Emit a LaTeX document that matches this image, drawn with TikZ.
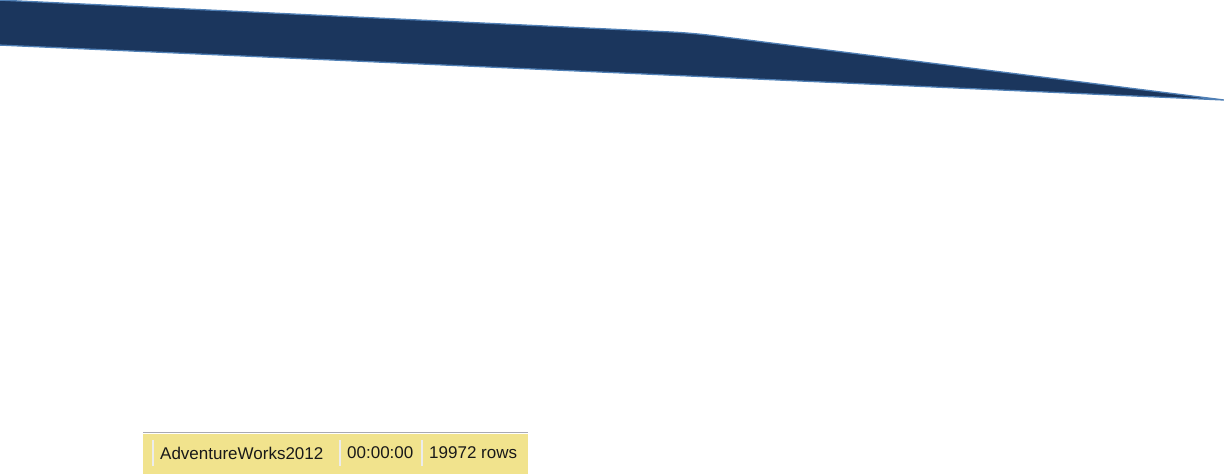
\documentclass[tikz,border=0pt]{standalone}
\usepackage{fontspec}
\setmainfont{Liberation Sans}
\usepackage{tikz}
\usetikzlibrary{positioning}
\definecolor{bandnavy}{HTML}{1B365D}
\definecolor{bandedge}{HTML}{4F7FB5}
\definecolor{baryellow}{HTML}{F1E38D}
\definecolor{barline}{HTML}{A9A9B2}
\tikzstyle{band}=[fill=bandnavy,draw=bandedge,line width=1.3pt,line join=round]
\tikzstyle{statusbar}=[fill=baryellow]
\tikzstyle{sep}=[draw=white!85!gray,line width=1.4pt]
\tikzstyle{stat}=[anchor=west,inner sep=0pt,font=\fontsize{17}{19}\selectfont,text=black!90]

\begin{document}
\begin{tikzpicture}[x=1pt,y=-1pt]
    \useasboundingbox (0,0) rectangle (1224,474);
    % Draw the band across the top
    \path[band] (-2,0) [rounded corners=20pt] -- (692,33) [sharp corners] -- (1224,100) -- (-2,45) -- cycle;
    % Then the status bar with its three fields
    \path[statusbar] (143,434) rectangle (528,474);
    \draw[barline,line width=1pt] (143,432) -- (528,432);
    \foreach \x/\name in {153/sepa, 340/sepb, 422/sepc}
        \coordinate (\name) at (\x,453);
    \foreach \name in {sepa, sepb, sepc}
        \path[sep] ([yshift=-13pt]\name) -- ([yshift=13pt]\name);
    \node[stat,right=7pt of sepa] (db) {AdventureWorks2012};
    \node[stat,right=7pt of sepb] (time) {00:00:00};
    \node[stat,right=7pt of sepc] (rows) {19972 rows};
\end{tikzpicture}
\end{document}
